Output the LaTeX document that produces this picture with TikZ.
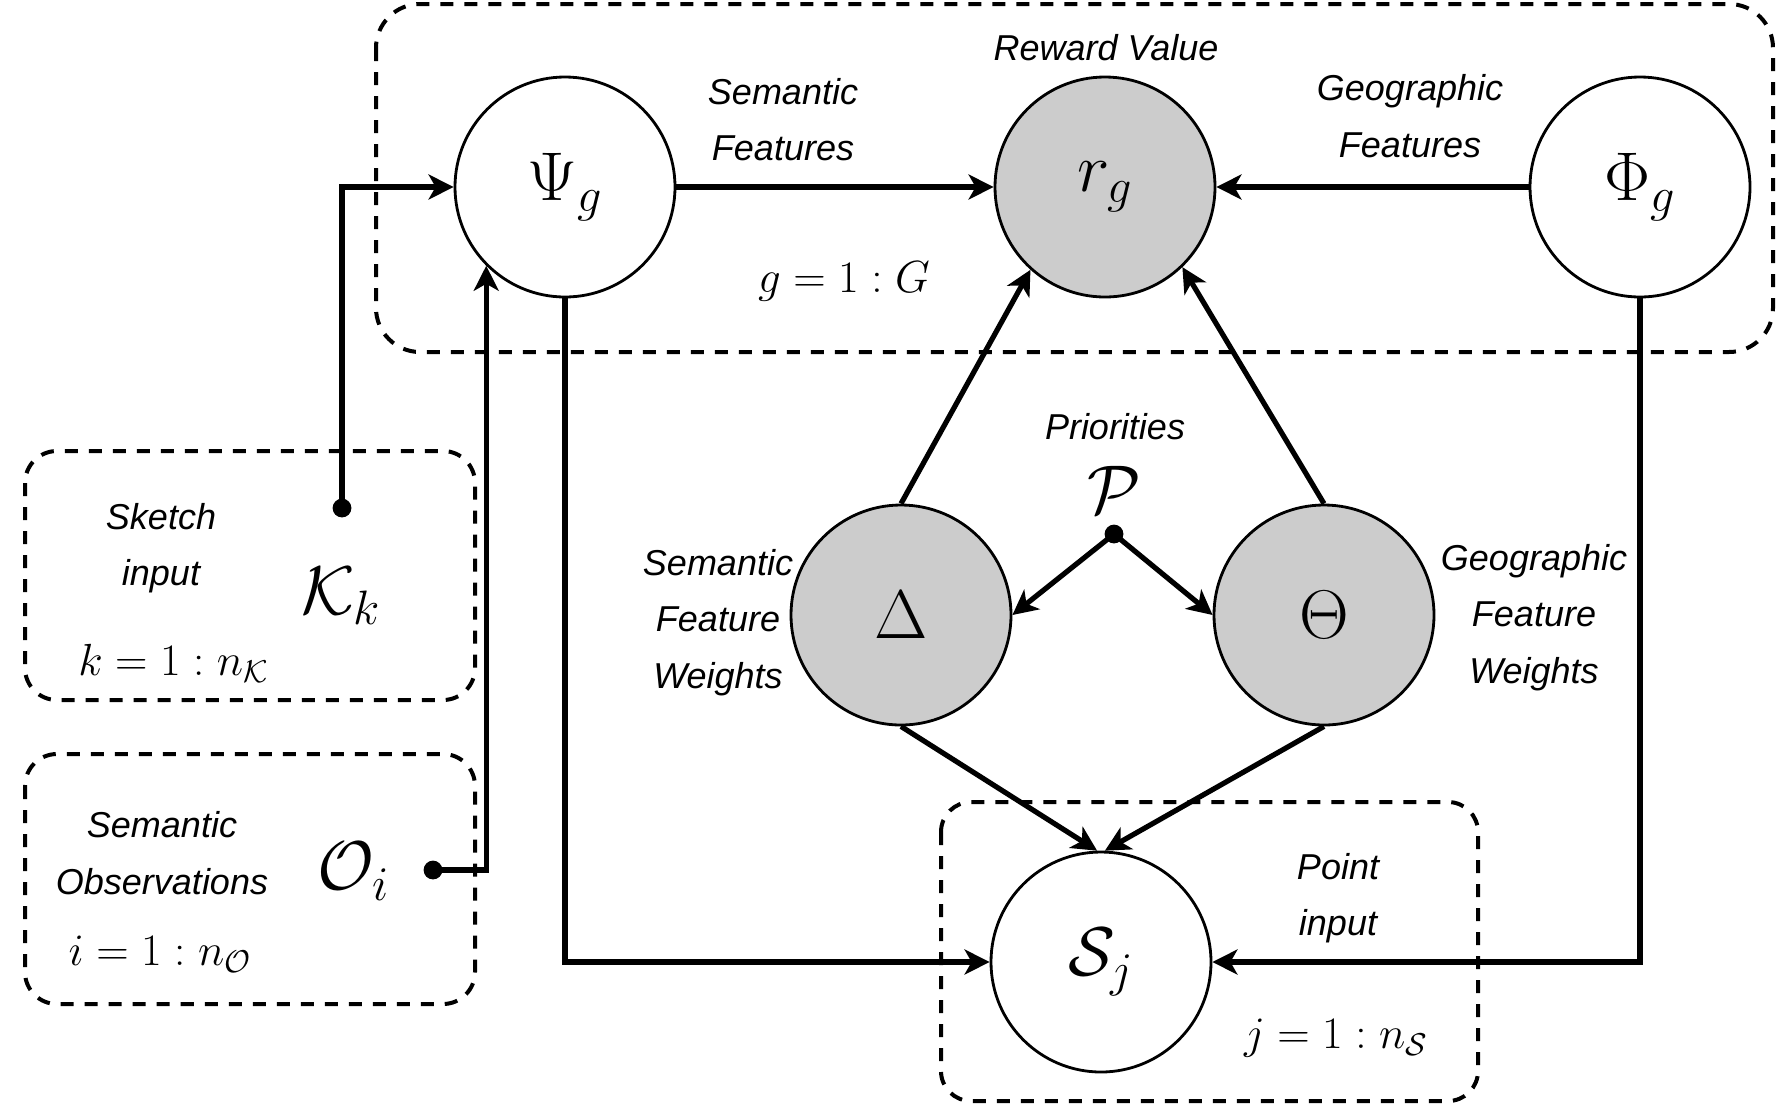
\RequirePackage{fix-cm}
\documentclass[tikz,border=0pt]{standalone}
\usepackage{fontspec}
\newfontfamily\lsans{Liberation Sans}
\usetikzlibrary{arrows.meta}
\definecolor{graycol}{RGB}{204,204,204}
\begin{document}
\begin{tikzpicture}[x=0.5pt,y=-0.5pt,
  vcirc/.style={circle,draw,fill=white,line width=1.4pt,minimum size=110pt,inner sep=0pt,font=\fontsize{34.5}{40}\selectfont},
  gcirc/.style={vcirc,fill=graycol},
  conn/.style={line width=2.6pt,-{Stealth[length=12.5pt,width=12.5pt,inset=3.5pt]}},
  dbox/.style={draw,line width=2pt,dash pattern=on 6.5pt off 5.5pt},
  lbl/.style={font=\lsans\itshape\fontsize{18}{28.3}\selectfont,align=center,inner sep=0pt},
  mlbl/.style={font=\fontsize{22.5}{26}\selectfont,inner sep=0pt},
  bmath/.style={font=\fontsize{34.5}{40}\selectfont,inner sep=0pt},
  dotc/.style={circle,fill,inner sep=0pt,minimum size=9.4pt}
]
\useasboundingbox (0,0) rectangle (1777,1105);

% dashed plates
\draw[dbox,rounded corners=22pt] (376,4) rectangle (1773,352);
\draw[dbox,rounded corners=16pt] (25,451) rectangle (475,700);
\draw[dbox,rounded corners=16pt] (25,754) rectangle (475,1004);
\draw[dbox,rounded corners=15pt] (941,802) rectangle (1478,1101);

% nodes
\node[vcirc] (Psi) at (565,187) {$\Psi_g$};
\node[gcirc] (rg) at (1105,187) {$r_g$};
\node[vcirc] (Phi) at (1640,187) {$\Phi_g$};
\node[gcirc] (Delta) at (901,615) {$\Delta$};
\node[gcirc] (Theta) at (1324,615) {$\Theta$};
\node[vcirc] (S) at (1101,962) {$\mathcal{S}_j$};

\node[dotc] (kdot) at (342,508) {};
\node[dotc] (odot) at (433,870) {};
\node[dotc] (pdot) at (1114,534) {};

% connectors
\draw[conn] (Psi) -- (rg);
\draw[conn] (Phi) -- (rg);
\draw[conn] (Delta.north) -- (rg.228);
\draw[conn] (Theta.north) -- (rg.314);
\draw[conn] (pdot.center) -- (Delta.east);
\draw[conn] (pdot.center) -- (Theta.west);
\draw[conn] (Delta.south) -- (S.92);
\draw[conn] (Theta.south) -- (S.88);
\draw[conn] (Psi.south) |- (S.west);
\draw[conn] (Phi.south) |- (S.east);
\draw[conn] (kdot.center) |- (Psi.west);
\draw[conn] (odot.center) -| (Psi.225.5);

% labels
\node[lbl] (semf) at (783,119.5) {Semantic\\Features};
\node[lbl] (rew) at (1106,48) {Reward Value};
\node[lbl] (geof) at (1410,116) {Geographic\\Features};
\node[mlbl] (grange) at (844,281) {$g=1:G$};
\node[lbl] (prio) at (1115,427) {Priorities};
\node[bmath] (P) at (1114,490) {$\mathcal{P}$};
\node[lbl] (sfw) at (718,622.5) {Semantic\\Feature\\Weights};
\node[lbl] (gfw) at (1534,617.5) {Geographic\\Feature\\Weights};
\node[lbl] (pin) at (1338,898) {Point\\input};
\node[mlbl] (jrange) at (1336,1038) {$j=1:n_{\mathcal{S}}$};
\node[lbl] (skin) at (161,548) {Sketch\\input};
\node[bmath] (K) at (341,596) {$\mathcal{K}_k$};
\node[mlbl] (krange) at (173.5,663.5) {$k=1:n_{\mathcal{K}}$};
\node[lbl] (semobs) at (162,853.4) {Semantic\\Observations};
\node[bmath] (O) at (354,871.5) {$\mathcal{O}_i$};
\node[mlbl] (irange) at (160,954.5) {$i=1:n_{\mathcal{O}}$};
\end{tikzpicture}
\end{document}
